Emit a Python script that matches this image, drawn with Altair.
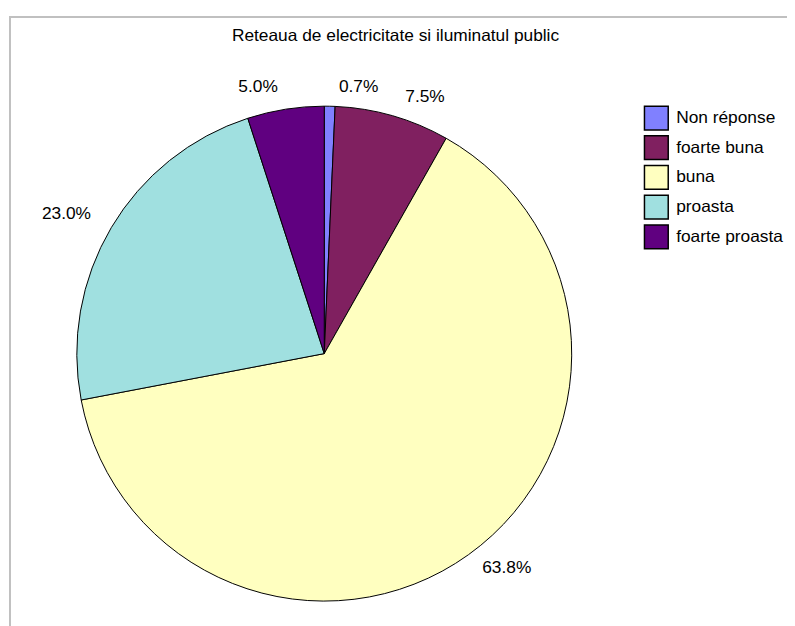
import altair as alt
import pandas as pd

categories = ["Non réponse", "foarte buna", "buna", "proasta", "foarte proasta"]
percentages = [0.7, 7.5, 63.8, 23.0, 5.0]
label_texts = ["0.7%", "7.5%", "63.8%", "23.0%", "5.0%"]
colors = ["#8080FF", "#802060", "#FFFFC0", "#A0E0E0", "#600080"]
title_text = "Reteaua de electricitate si iluminatul public"

FONT = "Liberation Sans"
FS = 17.5
CX, CY = 319.5, 346
R = 250

df = pd.DataFrame({
    "category": categories,
    "value": percentages,
    "label": label_texts,
    "order": list(range(len(categories))),
})

theta_scale = alt.Scale(domain=[0, 100])
base = alt.Chart(df)

border = alt.Chart(pd.DataFrame({"k": [0]})).mark_rect(
    fillOpacity=0, stroke="#C0C0C0", strokeWidth=2
).encode(
    x=alt.value(2), y=alt.value(6), x2=alt.value(1200), y2=alt.value(1200)
)

pie = base.mark_arc(radius=R, stroke="black", strokeWidth=1).encode(
    theta=alt.Theta("value:Q", stack=True, scale=theta_scale),
    color=alt.Color(
        "category:N",
        sort=None,
        scale=alt.Scale(domain=categories, range=colors),
        legend=alt.Legend(
            title=None, orient="none", legendX=642, legendY=95,
            symbolType="square", symbolSize=576,
            symbolStrokeColor="black", symbolStrokeWidth=1.5,
            symbolOpacity=1,
            labelFont=FONT, labelFontSize=FS, labelColor="black",
            rowPadding=0, labelOffset=7, padding=0,
        ),
    ),
    order=alt.Order("order:Q"),
    x=alt.value(CX),
    y=alt.value(CY),
)

lab_base = base.transform_window(
    cum="sum(value)", sort=[alt.SortField("order")], frame=[None, 0]
).transform_calculate(mid="datum.cum - datum.value / 2")


def label_layer(expr, align, baseline, r, dx):
    return lab_base.transform_filter(expr).mark_text(
        align=align, baseline=baseline, radius=r, dx=dx,
        font=FONT, fontSize=FS, color="black",
    ).encode(
        theta=alt.Theta("mid:Q", stack=None, scale=theta_scale),
        text="label:N",
        x=alt.value(CX),
        y=alt.value(CY),
    )


lab_tr = label_layer("datum.mid < 25", "left", "alphabetic", 264, 9)
lab_br = label_layer("datum.mid >= 25 && datum.mid < 50", "left", "top", 255, 11)
lab_bl = label_layer("datum.mid >= 50 && datum.mid < 75", "right", "top", 255, -6)
lab_tl = label_layer("datum.mid >= 75", "right", "alphabetic", 268, -5)

title = alt.Chart(pd.DataFrame({"t": [title_text]})).mark_text(
    align="center", baseline="alphabetic", font=FONT, fontSize=FS, color="black"
).encode(text="t:N", x=alt.value(391.5), y=alt.value(30))

chart = alt.layer(border, pie, lab_tr, lab_br, lab_bl, lab_tl, title).properties(
    width=787, height=618, autosize=alt.AutoSizeParams(type="none"), padding=0
).configure_view(strokeWidth=0)

chart.save("out.html", embed_options={"renderer": "svg", "actions": False})
